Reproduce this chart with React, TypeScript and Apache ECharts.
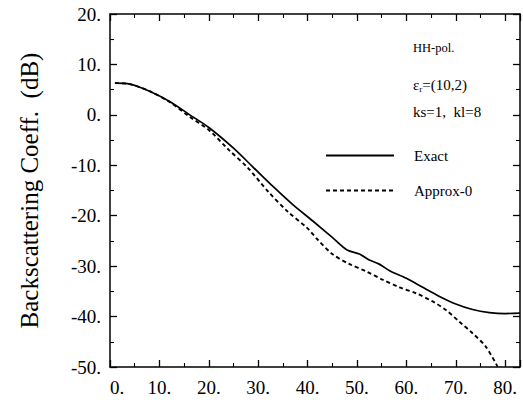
import React, { useEffect, useRef } from "react";
import * as echarts from "echarts";

const FONT = "'Liberation Serif', 'Times New Roman', serif";

// Incidence angle (deg) and backscattering coefficient (dB)
const exactAngle = [1, 4, 8, 12, 16, 20, 25, 29, 33, 37, 41, 45, 48, 50.5, 52.5, 54.5, 56.6, 60, 63.3, 66.7, 70, 73.4, 76.8, 80, 83];
const exactDb = [6.3, 6.1, 4.7, 2.7, 0.1, -2.5, -6.6, -10.4, -14.2, -17.8, -21, -24.3, -26.8, -27.6, -28.8, -29.6, -30.9, -32.4, -34.2, -36, -37.5, -38.6, -39.2, -39.4, -39.3];

const approxAngle = [1, 4, 8, 12, 16, 20, 24, 28, 32, 36, 40, 42, 45, 48.5, 52, 55.2, 58.6, 62, 65.3, 68, 70.7, 73.4, 76.1, 78.5];
const approxDb = [6.3, 6.1, 4.7, 2.6, -0.3, -3, -6.9, -10.6, -15.2, -19.2, -22.5, -24.7, -27.6, -29.6, -31.1, -32.7, -34.2, -35.4, -37, -38.7, -41, -43.3, -46, -50];

const seriesNames = ["Exact", "Approx-0"];
const annotationLines = ["HH-pol.", "{e|ε}{r|r}{t|=(10,2)}", "ks=1,  kl=8"];

const xMin = 0;
const xMax = 83;
const xInterval = 10;
const yMin = -50;
const yMax = 20;
const yInterval = 10;

export default function App() {
  const ref = useRef<HTMLDivElement>(null);
  useEffect(() => {
    if (!ref.current) return;
    const chart = echarts.init(ref.current, null, { renderer: "svg" });
    const axisCommon = {
      axisLine: { show: true, onZero: false, lineStyle: { color: "#000", width: 1.5 } },
      axisTick: { show: true, inside: true, length: 7, lineStyle: { color: "#000", width: 1.3 } },
      minorTick: { show: true, splitNumber: 2, length: 4, lineStyle: { color: "#000", width: 1.1 } },
      splitLine: { show: false },
      minorSplitLine: { show: false },
    };
    const labelStyle = { color: "#000", fontFamily: FONT, fontSize: 19 };
    chart.setOption({
      animation: false,
      backgroundColor: "#fff",
      grid: { left: 110, right: 2, top: 14, bottom: 33, containLabel: false },
      xAxis: [
        {
          type: "value",
          min: xMin,
          max: xMax,
          interval: xInterval,
          position: "bottom",
          ...axisCommon,
          axisLabel: {
            ...labelStyle,
            margin: 11,
            showMaxLabel: true,
            formatter: (v: number) => (v % 10 !== 0 ? "" : v === 0 ? "{z|0.}" : v + "."),
            rich: { z: { ...labelStyle, padding: [0, 0, 0, 14] } },
          },
        },
        {
          type: "value",
          min: xMin,
          max: xMax,
          interval: xInterval,
          position: "top",
          ...axisCommon,
          axisLabel: { show: false },
        },
      ],
      yAxis: [
        {
          type: "value",
          min: yMin,
          max: yMax,
          interval: yInterval,
          position: "left",
          ...axisCommon,
          axisLabel: { ...labelStyle, margin: 9, formatter: (v: number) => v + "." },
          name: "Backscattering Coeff.  (dB)",
          nameLocation: "middle",
          nameGap: 68,
          nameRotate: 90,
          nameTextStyle: { color: "#000", fontFamily: FONT, fontSize: 25 },
        },
        {
          type: "value",
          min: yMin,
          max: yMax,
          interval: yInterval,
          position: "right",
          ...axisCommon,
          axisLabel: { show: false },
        },
      ],
      legend: {
        orient: "vertical",
        left: 325,
        top: 148,
        padding: 0,
        itemWidth: 68,
        itemHeight: 14,
        itemGap: 20,
        data: seriesNames,
        itemStyle: { opacity: 0 },
        textStyle: { color: "#000", fontFamily: FONT, fontSize: 15, padding: [0, 0, 0, 15] },
      },
      graphic: annotationLines.map((t, i) => ({
        type: "text",
        left: 413,
        top: [41, 77, 104][i],
        style: {
          text: t,
          fill: "#000",
          fontFamily: FONT,
          fontSize: i === 0 ? 12.5 : 15,
          rich: {
            e: { fontFamily: FONT, fontSize: 15, lineHeight: 18, fill: "#000" },
            r: { fontFamily: FONT, fontSize: 9, lineHeight: 10, verticalAlign: "bottom", fill: "#000" },
            t: { fontFamily: FONT, fontSize: 15, lineHeight: 18, fill: "#000" },
          },
        },
      })),
      series: [
        {
          name: seriesNames[0],
          type: "line",
          xAxisIndex: 0,
          yAxisIndex: 0,
          symbol: "none",
          smooth: 0.3,
          lineStyle: { color: "#000", width: 1.7, type: "solid" },
          itemStyle: { color: "#000" },
          data: exactAngle.map((a, i) => [a, exactDb[i]]),
        },
        {
          name: seriesNames[1],
          type: "line",
          xAxisIndex: 0,
          yAxisIndex: 0,
          symbol: "none",
          smooth: 0.3,
          lineStyle: { color: "#000", width: 1.9, type: [4, 3] },
          itemStyle: { color: "#000" },
          data: approxAngle.map((a, i) => [a, approxDb[i]]),
        },
      ],
    });
    return () => chart.dispose();
  }, []);
  return (
    <div
      ref={ref}
      style={{ position: "absolute", left: 0, top: 0, width: 523, height: 400, background: "#fff" }}
    />
  );
}
